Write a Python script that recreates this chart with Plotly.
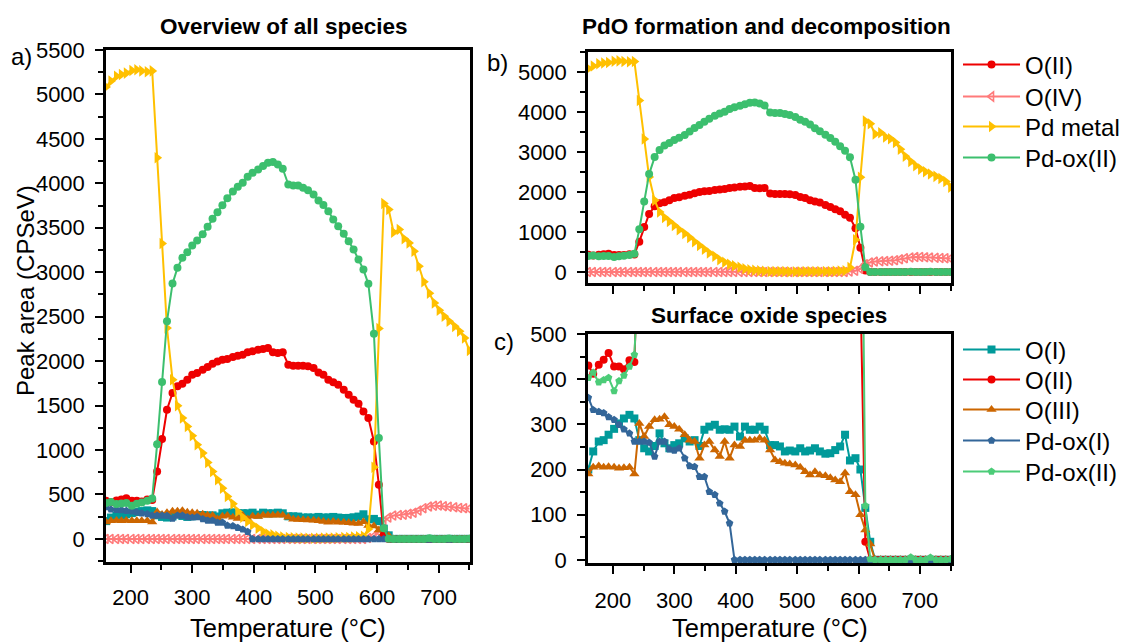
import plotly.graph_objects as go

# ---------------- data ----------------
temperature = [160, 168, 177, 185, 193, 202, 210, 218, 227, 235,
               243, 251, 259, 268, 276, 284, 292, 300, 308, 317,
               325, 333, 341, 349, 357, 366, 374, 382, 390, 398,
               407, 415, 423, 431, 439, 447, 456, 464, 472, 480,
               488, 497, 505, 513, 521, 529, 537, 546, 554, 562,
               570, 578, 586, 595, 603, 611, 619, 627, 636, 644,
               652, 660, 668, 676, 685, 693, 701, 709, 717, 726,
               734, 742, 750]

o_I = [200, 240, 262, 265, 277, 290, 302, 313, 321, 313,
       265, 247, 240, 252, 280, 258, 247, 254, 258, 269,
       262, 265, 252, 288, 295, 299, 288, 289, 288, 295,
       273, 295, 288, 288, 295, 288, 254, 254, 251, 240,
       242, 240, 247, 240, 242, 247, 240, 235, 236, 243,
       251, 277, 220, 225, 200, 115, 40, 0, 0, 0,
       0, 0, 0, 0, 0, 0, 0, 0, 0, 0,
       0, 0, 0]

o_II = [430, 412, 432, 443, 458, 428, 428, 422, 442, 438,
        758, 1123, 1453, 1641, 1716, 1746, 1791, 1847, 1866, 1904,
        1934, 1971, 1997, 2016, 2024, 2047, 2061, 2072, 2099, 2110,
        2129, 2137, 2148, 2099, 2092, 2099, 1960, 1949, 1949, 1949,
        1941, 1922, 1873, 1847, 1791, 1761, 1735, 1678, 1622, 1566,
        1521, 1434, 1359, 1096, 608, 40, 0, 0, 0, 0,
        0, 0, 0, 0, 0, 0, 0, 0, 0, 0,
        0, 0, 0]

o_III = [190, 205, 208, 205, 206, 205, 203, 204, 205, 190,
         302, 273, 295, 310, 311, 317, 299, 295, 289, 277,
         265, 262, 225, 254, 262, 243, 229, 262, 225, 254,
         251, 265, 265, 265, 269, 265, 243, 221, 217, 214,
         212, 210, 205, 195, 188, 195, 188, 186, 182, 177,
         173, 192, 151, 144, 100, 66, 35, 0, 0, 0,
         0, 0, 0, 0, 0, 0, 0, 0, 0, 0,
         0, 0, 0]

o_IV = [0, 0, 0, 0, 0, 0, 0, 0, 0, 0,
        0, 0, 0, 0, 0, 0, 0, 0, 0, 0,
        0, 0, 0, 0, 0, 0, 0, 0, 0, 0,
        0, 0, 0, 0, 0, 0, 0, 0, 0, 0,
        0, 0, 0, 0, 0, 0, 0, 0, 0, 0,
        0, 0, 10, 30, 80, 195, 240, 262, 268, 272,
        282, 295, 318, 345, 364, 374, 375, 368, 362, 355,
        348, 345, 338]

pd_metal = [5085, 5150, 5205, 5225, 5240, 5270, 5278, 5265, 5255, 5265,
            4288, 3323, 2373, 1791, 1498, 1360, 1265, 1160, 1059, 965,
            860, 758, 665, 571, 477, 394, 308, 244, 195, 158,
            120, 82, 56, 45, 30, 20, 15, 12, 10, 10,
            8, 8, 8, 10, 10, 10, 12, 15, 15, 20,
            25, 30, 110, 805, 2368, 3773, 3706, 3450, 3481, 3376,
            3330, 3236, 3067, 2893, 2763, 2655, 2572, 2504, 2448, 2391,
            2335, 2260, 2121]

pd_ox_I = [359, 332, 328, 325, 316, 310, 299, 289, 280, 262,
           262, 262, 260, 229, 262, 262, 245, 242, 247, 225,
           208, 206, 184, 184, 151, 144, 125, 107, 81, 0,
           0, 0, 0, 0, 0, 0, 0, 0, 0, 0,
           0, 0, 0, 0, 0, 0, 0, 0, 0, 0,
           0, 0, 0, 0, 0, 0, 0, 0, 0, 0,
           0, 0, 0, 0, -6, 0, 0, 0, -6, 0,
           0, 0, 0]

pd_ox_II = [403, 415, 393, 398, 403, 374, 396, 408, 428, 454,
            1066, 1765, 2448, 2872, 3049, 3162, 3225, 3300, 3357, 3428,
            3511, 3601, 3676, 3754, 3833, 3909, 3961, 4006, 4074, 4119,
            4156, 4194, 4232, 4239, 4213, 4164, 3987, 3976, 3976, 3950,
            3923, 3875, 3807, 3755, 3687, 3593, 3518, 3432, 3349, 3255,
            3143, 3030, 2869, 2309, 1134, 120, 2, 0, 0, 0,
            0, 0, 0, 0, 6, 0, 0, 0, 5, 0,
            0, 0, 2]

legend_b = ["O(II)", "O(IV)", "Pd metal", "Pd-ox(II)"]
legend_c = ["O(I)", "O(II)", "O(III)", "Pd-ox(I)", "Pd-ox(II)"]

# ---------------- styles ----------------
FONT = "Liberation Sans, Arial, sans-serif"
C_OI = "#009a9a"
C_OII = "#ee0000"
C_OIII = "#cc6600"
C_OIV = "#ff7a7a"
C_PD = "#ffc000"
C_PDI = "#336699"
C_PDII = "#3cbf6e"

series = {
    "O(I)": (o_I, C_OI, "square", 8),
    "O(II)": (o_II, C_OII, "circle", 8),
    "O(III)": (o_III, C_OIII, "triangle-up", 9),
    "O(IV)": (o_IV, C_OIV, "triangle-left-open", 8),
    "Pd metal": (pd_metal, C_PD, "triangle-right", 10),
    "Pd-ox(I)": (pd_ox_I, C_PDI, "pentagon", 8),
    "Pd-ox(II)": (pd_ox_II, C_PDII, "circle", 8),
}

W, H = 1125, 642


def px(xp):
    return xp / W


def py(yp):
    return 1 - yp / H


fig = go.Figure()


def add(name, xa, ya, legend=None, symbol=None, size=None, color=None):
    vals, col, sym, sz = series[name]
    col = color or col
    s = symbol or sym
    mk = dict(symbol=s, size=size or sz, color=col)
    mk["line"] = dict(width=1.6, color=col) if s.endswith("open") else dict(width=0)
    kw = dict(x=temperature, y=vals, name=name, mode="lines+markers",
              line=dict(color=col, width=2), marker=mk,
              xaxis=xa, yaxis=ya, showlegend=legend is not None)
    if legend:
        kw["legend"] = legend
    fig.add_trace(go.Scatter(**kw))


legends = {}
LEG_X = 958
leg_y_b = [65, 97, 127, 158]
leg_y_c = [350, 380, 410, 441, 472]
k = 1


def legkey(i):
    return "legend" if i == 1 else f"legend{i}"


# panel a
for nm in ["O(IV)", "O(I)", "O(III)", "O(II)", "Pd metal", "Pd-ox(I)", "Pd-ox(II)"]:
    add(nm, "x", "y")
# panel b
for nm, yy in zip(legend_b, leg_y_b):
    key = legkey(k)
    add(nm, "x2", "y2", legend=key)
    legends[key] = yy
    k += 1
# panel c
for nm, yy in zip(legend_c, leg_y_c):
    key = legkey(k)
    add(nm, "x3", "y3", legend=key,
        symbol="pentagon" if nm == "Pd-ox(II)" else None,
        size=9 if nm == "O(III)" else 8,
        color="#4ccc78" if nm == "Pd-ox(II)" else None)
    legends[key] = yy
    k += 1

TICKFONT = dict(size=22, color="black", family=FONT)


def axis(rng, dtick, mdtick, domain, anchor, labels=True, standoff=6):
    return dict(range=rng, domain=domain, anchor=anchor,
                showline=True, linecolor="black", linewidth=2.5, mirror=True,
                ticks="outside", ticklen=8, tickwidth=2, tickcolor="black",
                tick0=0, dtick=dtick, showgrid=False, zeroline=False,
                showticklabels=labels, tickfont=TICKFONT,
                ticklabelstandoff=standoff,
                minor=dict(ticks="outside", ticklen=5, tickwidth=2,
                           tickcolor="black", dtick=mdtick, tick0=0,
                           showgrid=False))


layout = dict(
    width=W, height=H,
    margin=dict(l=0, r=0, t=0, b=0, autoexpand=False),
    paper_bgcolor="white", plot_bgcolor="white",
    font=dict(family=FONT, color="black"),
    xaxis=axis([160, 751], 100, 50, [px(106), px(470)], "y", standoff=6),
    yaxis=axis([-260, 5500], 500, 250, [py(562), py(50)], "x", standoff=6),
    xaxis2=axis([159.5, 750.5], 100, 50, [px(588), px(951)], "y2", labels=False),
    yaxis2=axis([-275, 5500], 1000, 500, [py(283), py(52)], "x2", standoff=6),
    xaxis3=axis([159.5, 750.5], 100, 50, [px(588), px(951)], "y3", standoff=8),
    yaxis3=axis([-7, 500], 100, 50, [py(563), py(334)], "x3", standoff=6),
)

for key, yy in legends.items():
    layout[key] = dict(x=px(LEG_X), y=py(yy), xanchor="left", yanchor="middle",
                       font=dict(size=24, family=FONT, color="black"),
                       bgcolor="rgba(0,0,0,0)", itemwidth=57)

ann = []


def text(s, x, y, size, bold=False, angle=0):
    ann.append(dict(text=f"<b>{s}</b>" if bold else s, x=px(x), y=py(y),
                    xref="paper", yref="paper", showarrow=False,
                    xanchor="center", yanchor="middle", textangle=angle,
                    font=dict(size=size, family=FONT, color="black")))


text("Overview of all species", 284, 26, 22.5, bold=True)
text("PdO formation and decomposition", 766, 26, 22.5, bold=True)
text("Surface oxide species", 769, 315, 22.5, bold=True)
text("a)", 21, 56, 24)
text("b)", 497, 63, 24)
text("c)", 504, 342, 24)
text("Peak area (CPSeV)", 25, 291, 24, angle=-90)
text("Temperature (°C)", 288, 628, 25.5)
text("Temperature (°C)", 770, 628, 25.5)
layout["annotations"] = ann

fig.update_layout(**layout)
fig.write_html("out.html")
